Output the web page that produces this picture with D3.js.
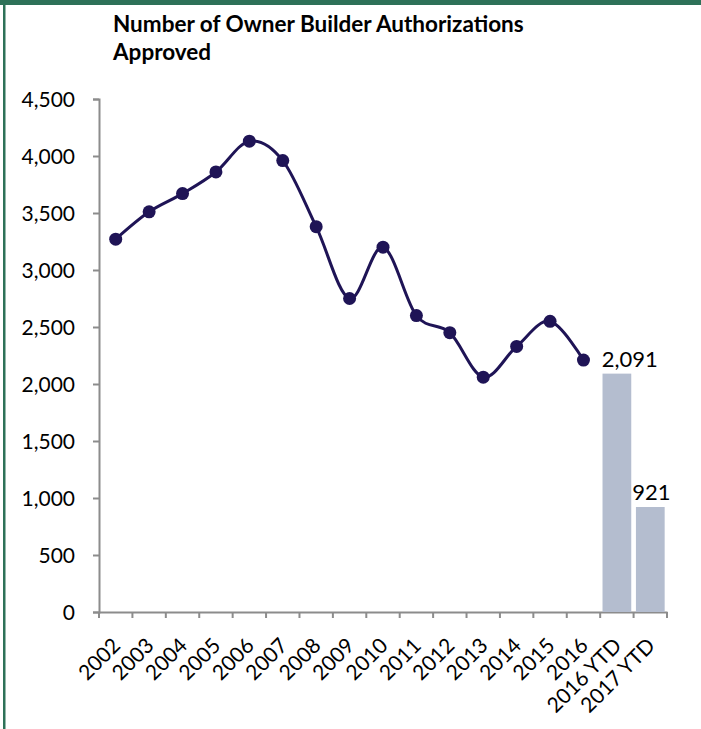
<!DOCTYPE html>
<html>
<head>
<meta charset="utf-8">
<script src="https://cdn.jsdelivr.net/npm/d3@7"></script>
<style>
  body { margin: 0; background: #fff; }
  svg text { font-family: Lato, "Open Sans", sans-serif; fill: #000; }
</style>
</head>
<body>
<div id="chart"></div>
<script>
const categories = ["2002", "2003", "2004", "2005", "2006", "2007", "2008", "2009", "2010",
  "2011", "2012", "2013", "2014", "2015", "2016", "2016 YTD", "2017 YTD"]
const lineYears = ["2002", "2003", "2004", "2005", "2006", "2007", "2008", "2009", "2010",
  "2011", "2012", "2013", "2014", "2015", "2016"]
const lineValues = [3270, 3510, 3670, 3860, 4130, 3960, 3380, 2750, 3200, 2600, 2450, 2060, 2330, 2550, 2210]
const barCats = ["2016 YTD", "2017 YTD"]
const barValues = [2091, 921]
const yTicks = [0, 500, 1000, 1500, 2000, 2500, 3000, 3500, 4000, 4500]

const W = 701, H = 729
const margin = { top: 99, right: 34, bottom: 117, left: 99 }
const width = W - margin.left - margin.right
const height = H - margin.top - margin.bottom

const svg = d3.select("#chart").append("svg")
  .attr("width", W)
  .attr("height", H)

// frame
svg.append("rect").attr("x", 0).attr("y", 0).attr("width", W).attr("height", 5).attr("fill", "#2e7158")
svg.append("rect").attr("x", 3).attr("y", 0).attr("width", 2.5).attr("height", H).attr("fill", "#2e7158")

svg.append("text")
  .attr("x", 113)
  .attr("y", 32)
  .attr("font-size", 22.5)
  .attr("font-weight", "bold")
  .selectAll("tspan")
  .data(["Number of Owner Builder Authorizations", "Approved"])
  .join("tspan")
    .attr("x", 113)
    .attr("dy", (d, i) => i ? 27.5 : 0)
    .text(d => d)

const g = svg.append("g")
  .attr("transform", `translate(${margin.left},${margin.top})`)

const x = d3.scaleBand().domain(categories).range([0, width])
const y = d3.scaleLinear().domain([0, 4500]).range([height, 0])

// y axis
const yAxis = g.append("g")
  .call(d3.axisLeft(y).tickValues(yTicks).tickFormat(d3.format(",")).tickSize(6).tickPadding(18))
yAxis.selectAll("text").attr("font-size", 21).attr("dy", "0.36em")
yAxis.select(".domain").attr("stroke", "#8c8c8c").attr("stroke-width", 2)
yAxis.selectAll(".tick line").attr("stroke", "#8c8c8c").attr("stroke-width", 2)

// x axis: labels at centers, ticks at band edges
const xAxis = g.append("g")
  .attr("transform", `translate(0,${height})`)
  .call(d3.axisBottom(x).tickSize(0).tickPadding(0))
xAxis.select(".domain").attr("stroke", "#8c8c8c").attr("stroke-width", 2)
xAxis.selectAll("text")
  .attr("font-size", 21)
  .attr("text-anchor", "end")
  .attr("dy", 0)
  .attr("transform", "translate(6,35) rotate(-45)")

xAxis.selectAll(".edge")
  .data(d3.range(categories.length + 1))
  .join("line")
    .attr("class", "edge")
    .attr("x1", i => i * x.step())
    .attr("x2", i => i * x.step())
    .attr("y1", 0)
    .attr("y2", 6)
    .attr("stroke", "#8c8c8c")
    .attr("stroke-width", 2)

// bars
const bw = x.bandwidth() * 0.86
g.selectAll(".bar")
  .data(barCats)
  .join("rect")
    .attr("class", "bar")
    .attr("x", (d) => x(d) + (x.bandwidth() - bw) / 2)
    .attr("y", (d, i) => y(barValues[i]))
    .attr("width", bw)
    .attr("height", (d, i) => height - y(barValues[i]))
    .attr("fill", "#b4bdcf")

g.selectAll(".barlabel")
  .data(barCats)
  .join("text")
    .attr("class", "barlabel")
    .attr("x", (d, i) => x(d) + x.bandwidth() / 2 + (i ? 1 : 13))
    .attr("y", (d, i) => y(barValues[i]) - 7)
    .attr("text-anchor", "middle")
    .attr("font-size", 22)
    .text((d, i) => d3.format(",")(barValues[i]))

// line
const pts = lineYears.map((c, i) => [x(c) + x.bandwidth() / 2, y(lineValues[i])])
g.append("path")
  .attr("d", d3.line().curve(d3.curveCardinal.tension(0))(pts))
  .attr("fill", "none")
  .attr("stroke", "#1f1456")
  .attr("stroke-width", 3)

g.selectAll(".dot")
  .data(pts)
  .join("circle")
    .attr("class", "dot")
    .attr("cx", d => d[0])
    .attr("cy", d => d[1])
    .attr("r", 6.5)
    .attr("fill", "#1f1456")
</script>
</body>
</html>
